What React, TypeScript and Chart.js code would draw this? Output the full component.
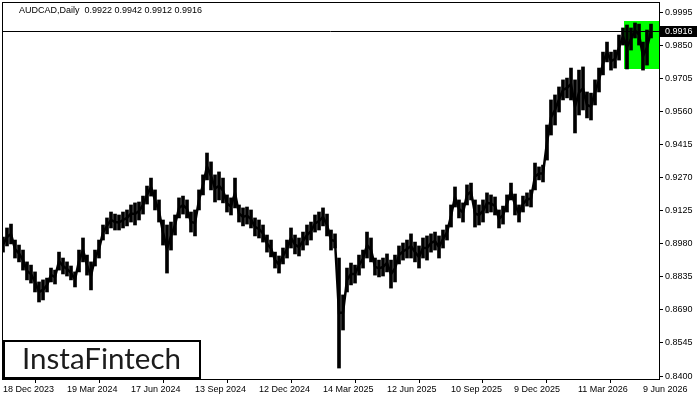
import React, { useEffect, useRef } from "react";
import { Chart, registerables } from "chart.js";

Chart.register(...registerables);

// ---- data ----
const SYMBOL = "AUDCAD,Daily";
const OHLC_TEXT = ["0.9922", "0.9942", "0.9912", "0.9916"];
const LAST_PRICE = 0.9916;
const SAMPLE_STEP = 4; // trading days per sample
const FIRST_DAY = 1;

const highs = [
  0.9010, 0.9050, 0.9067, 0.8997, 0.8975, 0.8953, 0.8901, 0.8887, 0.8857, 0.8813,
  0.8822, 0.8830, 0.8874, 0.8865, 0.8944, 0.8918, 0.8901, 0.8883, 0.8857, 0.8953,
  0.9006, 0.8931, 0.8901, 0.8953, 0.8997, 0.9063, 0.9094, 0.9120, 0.9111, 0.9107,
  0.9120, 0.9129, 0.9151, 0.9160, 0.9164, 0.9190, 0.9234, 0.9269, 0.9217, 0.9173,
  0.9085, 0.9063, 0.9076, 0.9107, 0.9182, 0.9190, 0.9173, 0.9120, 0.9129, 0.9217,
  0.9283, 0.9379, 0.9340, 0.9283, 0.9296, 0.9269, 0.9195, 0.9182, 0.9269, 0.9151,
  0.9138, 0.9142, 0.9129, 0.9094, 0.9085, 0.9063, 0.9019, 0.8997, 0.8944, 0.8927,
  0.8962, 0.8997, 0.9050, 0.9019, 0.9006, 0.9032, 0.9063, 0.9076, 0.9107, 0.9120,
  0.9138, 0.9111, 0.9041, 0.9024, 0.8918, 0.8756, 0.8874, 0.8896, 0.8887, 0.8931,
  0.8953, 0.9032, 0.9006, 0.8918, 0.8909, 0.8918, 0.8936, 0.8909, 0.8931, 0.8971,
  0.8984, 0.8997, 0.9024, 0.8988, 0.8971, 0.9006, 0.9015, 0.9024, 0.9032, 0.9015,
  0.9041, 0.9063, 0.9151, 0.9230, 0.9173, 0.9160, 0.9239, 0.9247, 0.9173, 0.9151,
  0.9173, 0.9204, 0.9195, 0.9186, 0.9129, 0.9146, 0.9195, 0.9247, 0.9199, 0.9151,
  0.9190, 0.9204, 0.9217, 0.9335, 0.9318, 0.9326, 0.9502, 0.9612, 0.9634, 0.9669,
  0.9700, 0.9708, 0.9752, 0.9700, 0.9743, 0.9757, 0.9647, 0.9642, 0.9700, 0.9752,
  0.9822, 0.9866, 0.9822, 0.9831, 0.9897, 0.9928, 0.9941, 0.9928, 0.9950, 0.9945,
  0.9866, 0.9919, 0.9945,
];

const lows = [
  0.8944, 0.8971, 0.8980, 0.8918, 0.8901, 0.8865, 0.8822, 0.8808, 0.8769, 0.8725,
  0.8734, 0.8769, 0.8813, 0.8804, 0.8865, 0.8848, 0.8839, 0.8822, 0.8791, 0.8857,
  0.8901, 0.8843, 0.8778, 0.8883, 0.8918, 0.8997, 0.9024, 0.9050, 0.9041, 0.9041,
  0.9050, 0.9059, 0.9076, 0.9063, 0.9085, 0.9111, 0.9155, 0.9190, 0.9129, 0.9076,
  0.8975, 0.8852, 0.8953, 0.9019, 0.9094, 0.9111, 0.9094, 0.9032, 0.9015, 0.9129,
  0.9195, 0.9261, 0.9217, 0.9164, 0.9173, 0.9160, 0.9120, 0.9107, 0.9138, 0.9076,
  0.9059, 0.9067, 0.9050, 0.9015, 0.9006, 0.8988, 0.8944, 0.8923, 0.8874, 0.8852,
  0.8892, 0.8918, 0.8962, 0.8936, 0.8927, 0.8953, 0.8975, 0.8997, 0.9032, 0.9041,
  0.9059, 0.9015, 0.8953, 0.8962, 0.8435, 0.8602, 0.8769, 0.8800, 0.8808, 0.8843,
  0.8874, 0.8918, 0.8901, 0.8843, 0.8835, 0.8839, 0.8857, 0.8786, 0.8813, 0.8892,
  0.8909, 0.8918, 0.8918, 0.8901, 0.8874, 0.8918, 0.8909, 0.8944, 0.8953, 0.8918,
  0.8962, 0.8997, 0.9054, 0.9142, 0.9094, 0.9076, 0.9151, 0.9173, 0.9054, 0.9063,
  0.9076, 0.9116, 0.9120, 0.9107, 0.9050, 0.9067, 0.9120, 0.9173, 0.9107, 0.9076,
  0.9120, 0.9146, 0.9142, 0.9217, 0.9261, 0.9252, 0.9348, 0.9458, 0.9502, 0.9559,
  0.9612, 0.9621, 0.9612, 0.9467, 0.9546, 0.9568, 0.9533, 0.9524, 0.9590, 0.9647,
  0.9722, 0.9779, 0.9743, 0.9752, 0.9787, 0.9853, 0.9748, 0.9831, 0.9884, 0.9853,
  0.9743, 0.9765, 0.9884,
];

const xTickDays = [1, 65, 129, 193, 257, 321, 385, 449, 512, 576, 641];
const xTickLabels = [
  "18 Dec 2023", "19 Mar 2024", "17 Jun 2024", "13 Sep 2024", "12 Dec 2024",
  "14 Mar 2025", "12 Jun 2025", "10 Sep 2025", "9 Dec 2025", "11 Mar 2026", "9 Jun 2026",
];
const yTickValues = [
  0.8400, 0.8545, 0.8690, 0.8835, 0.8980, 0.9125, 0.9270, 0.9415, 0.9560, 0.9705, 0.9850, 0.9995,
];
const X_MIN = 0;
const X_MAX = 657;
const Y_MIN = 0.838694;
const Y_MAX = 1.004197;

// pattern rectangle (green)
const PATTERN_START_DAY = 622;
const PATTERN_TOP = 0.9959;
const PATTERN_BOTTOM = 0.9748;

const LOGO_TEXT = "InstaFintech";

const TICK_FONT = { family: "'Liberation Sans', Arial, sans-serif", size: 9 };

const overlayPlugin = {
  id: "overlay",
  beforeDatasetsDraw(chart: any) {
    const { ctx, chartArea: a, scales } = chart;
    const x = scales.x;
    const y = scales.y;
    ctx.save();
    const bx = Math.round(x.getPixelForValue(PATTERN_START_DAY));
    const by1 = Math.round(y.getPixelForValue(PATTERN_TOP));
    const by2 = Math.round(y.getPixelForValue(PATTERN_BOTTOM));
    ctx.fillStyle = "#00ff00";
    ctx.fillRect(bx, by1, a.right - bx, by2 - by1);
    const py = Math.round(y.getPixelForValue(LAST_PRICE)) + 0.5;
    ctx.strokeStyle = "#000";
    ctx.lineWidth = 1;
    ctx.beginPath();
    ctx.moveTo(a.left, py);
    ctx.lineTo(a.right, py);
    ctx.stroke();
    ctx.restore();
  },
  afterDraw(chart: any) {
    const { ctx, chartArea: a, scales } = chart;
    const y = scales.y;
    ctx.save();
    // frame
    ctx.strokeStyle = "#000";
    ctx.lineWidth = 1;
    ctx.strokeRect(a.left + 0.5, a.top + 0.5, a.right - a.left, a.bottom - a.top);

    // last price label
    const py = Math.round(y.getPixelForValue(LAST_PRICE));
    ctx.fillStyle = "#000";
    ctx.fillRect(a.right + 1, py - 5, 37, 11);
    ctx.fillStyle = "#fff";
    ctx.font = "9px 'Liberation Sans', Arial, sans-serif";
    ctx.textBaseline = "middle";
    ctx.textAlign = "left";
    ctx.fillText(LAST_PRICE.toFixed(4), a.right + 6, py + 0.5);

    // title
    ctx.fillStyle = "#000";
    ctx.fillText(SYMBOL + "  " + OHLC_TEXT.join(" "), 19, 11);

    // logo
    ctx.fillStyle = "#fff";
    ctx.fillRect(4, 341, 196, 37);
    ctx.strokeStyle = "#000";
    ctx.lineWidth = 2;
    ctx.strokeRect(4, 341, 196, 37);
    ctx.font = "28px Lato, 'Open Sans', sans-serif";
    const w = ctx.measureText(LOGO_TEXT).width;
    const size = (28 * 159) / w;
    ctx.font = `${size.toFixed(2)}px Lato, 'Open Sans', sans-serif`;
    ctx.fillStyle = "#1c1c1c";
    ctx.textAlign = "center";
    ctx.textBaseline = "alphabetic";
    ctx.fillText(LOGO_TEXT, 101.5, 369);
    ctx.restore();
  },
};

const zeroPadding = (axis: any) => {
  axis.paddingTop = 0;
  axis.paddingBottom = 0;
  axis.paddingLeft = 0;
  axis.paddingRight = 0;
};

export default function App() {
  const ref = useRef<HTMLCanvasElement | null>(null);
  useEffect(() => {
    if (!ref.current) return;
    const days = highs.map((_, i) => FIRST_DAY + i * SAMPLE_STEP);
    const rangePoints = highs.map((h, i) => ({ x: days[i], y: [lows[i], h] }));
    const midPoints = highs.map((h, i) => ({ x: days[i], y: (h + lows[i]) / 2 }));
    const chart = new Chart(ref.current, {
      type: "bar",
      data: {
        datasets: [
          {
            type: "line",
            data: midPoints as any,
            borderColor: "#000",
            borderWidth: 2.5,
            pointRadius: 0,
            tension: 0,
          } as any,
          {
            type: "bar",
            data: rangePoints as any,
            backgroundColor: "#000",
            borderWidth: 0,
            barThickness: 3,
          } as any,
        ],
      },
      plugins: [overlayPlugin],
      options: {
        animation: false,
        responsive: false,
        devicePixelRatio: 1,
        layout: { padding: { left: 2, top: 2, right: 0, bottom: 0 } },
        plugins: { legend: { display: false }, tooltip: { enabled: false }, title: { display: false } },
        scales: {
          x: {
            type: "linear",
            min: X_MIN,
            max: X_MAX,
            offset: false,
            grid: { drawOnChartArea: false, drawTicks: true, tickLength: 4, color: "#000" },
            border: { display: false },
            afterBuildTicks: (axis: any) => {
              axis.ticks = xTickDays.map((v) => ({ value: v }));
            },
            afterFit: (axis: any) => {
              axis.height = 21;
              zeroPadding(axis);
            },
            ticks: {
              autoSkip: false,
              maxRotation: 0,
              minRotation: 0,
              align: "start",
              padding: 1,
              color: "#000",
              font: TICK_FONT,
              callback: (v: any) => {
                const k = xTickDays.indexOf(Number(v));
                return k >= 0 ? xTickLabels[k] : "";
              },
            },
          },
          y: {
            type: "linear",
            position: "right",
            min: Y_MIN,
            max: Y_MAX,
            grid: { drawOnChartArea: false, drawTicks: true, tickLength: 4, color: "#000" },
            border: { display: false },
            afterBuildTicks: (axis: any) => {
              axis.ticks = yTickValues.map((v) => ({ value: v }));
            },
            afterFit: (axis: any) => {
              axis.width = 41;
              zeroPadding(axis);
            },
            ticks: {
              autoSkip: false,
              padding: 2,
              color: "#000",
              font: TICK_FONT,
              callback: (v: any) => Number(v).toFixed(4),
            },
          },
        },
      } as any,
    });
    return () => chart.destroy();
  }, []);
  return (
    <div style={{ position: "fixed", left: 0, top: 0, width: 700, height: 400, background: "#fff" }}>
      <canvas ref={ref} width={700} height={400} />
    </div>
  );
}
